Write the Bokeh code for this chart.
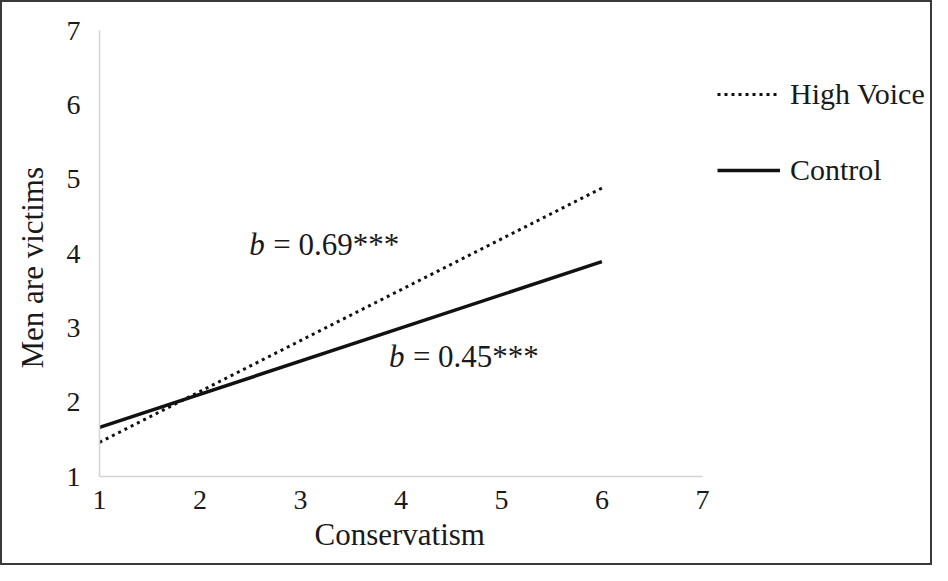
from bokeh.plotting import figure
from bokeh.models import Range1d, FixedTicker, Legend, LegendItem, Label, Title
from bokeh.embed import file_html
from bokeh.resources import INLINE

# Data
conservatism = [1, 6]
high_voice = [1.46, 4.88]
control = [1.66, 3.89]
x_ticks = [1, 2, 3, 4, 5, 6, 7]
y_ticks = [1, 2, 3, 4, 5, 6, 7]
x_axis_bounds = (1, 7)
series_names = ["High Voice", "Control"]
annot_hv = {"x": 2.49, "y": 4.12, "b": "b", "rest": "= 0.69***"}
annot_ct = {"x": 3.88, "y": 2.61, "b": "b", "rest": "= 0.45***"}

FONT = "Liberation Serif"
INK = "#1a1a1a"

W, H = 932, 565
LEFT, TOP, BOTTOM = 97, 28, 91
PX_PER_X = 100.0
x_end = 1 + (W - 4 - LEFT) / PX_PER_X  # frame runs to right edge; axis drawn only 1..7

p = figure(width=W, height=H, output_backend="svg", toolbar_location=None,
           x_range=Range1d(1, x_end), y_range=Range1d(1, 7),
           min_border_left=LEFT, min_border_top=TOP, min_border_right=0, min_border_bottom=BOTTOM)
p.styles = {"border": "2px solid #3a3a3a", "box-sizing": "border-box"}
p.outline_line_color = None
p.grid.grid_line_color = None
p.background_fill_color = "white"
p.border_fill_color = "white"

for ax in (p.xaxis[0], p.yaxis[0]):
    ax.axis_line_color = "#d4d4d4"
    ax.axis_line_width = 1.5
    ax.major_tick_line_color = None
    ax.minor_tick_line_color = None
    ax.major_label_text_font = FONT
    ax.major_label_text_font_size = "28px"
    ax.major_label_text_color = INK

p.xaxis.ticker = FixedTicker(ticks=x_ticks)
p.yaxis.ticker = FixedTicker(ticks=y_ticks)
p.xaxis.bounds = x_axis_bounds
p.xaxis.major_label_standoff = 8
p.yaxis.major_label_standoff = 13

xtitle = Title(text="Conservatism", align="left", offset=215, standoff=6,
               text_font=FONT, text_font_size="31px", text_font_style="normal",
               text_color=INK)
p.add_layout(xtitle, "below")

ytitle = Title(text="Men are victims", align="left", offset=108, standoff=24,
               vertical_align="top",
               text_font=FONT, text_font_size="31px", text_font_style="normal",
               text_color=INK)
p.add_layout(ytitle, "left")

r_hv = p.line(conservatism, high_voice, line_color="#111111", line_width=3, line_dash="3 4")
r_ct = p.line(conservatism, control, line_color="#111111", line_width=3.5)

legend = Legend(items=[LegendItem(label=series_names[0], renderers=[r_hv]),
                       LegendItem(label=series_names[1], renderers=[r_ct])],
                location=(618, 289), orientation="vertical",
                padding=0, margin=0, spacing=42, glyph_width=63, glyph_height=30,
                label_standoff=10, label_text_font=FONT, label_text_font_size="30px",
                label_text_color=INK, border_line_alpha=0, background_fill_alpha=0)
p.add_layout(legend, "center")

for a in (annot_hv, annot_ct):
    p.add_layout(Label(x=a["x"], y=a["y"], text=a["b"], text_font=FONT, text_font_size="31px",
                       text_font_style="italic", text_color=INK, text_baseline="alphabetic"))
    p.add_layout(Label(x=a["x"], y=a["y"], text=a["rest"], text_font=FONT, text_font_size="31px",
                       text_color=INK, text_baseline="alphabetic", x_offset=24))

open("out.html", "w").write(file_html(p, INLINE))
